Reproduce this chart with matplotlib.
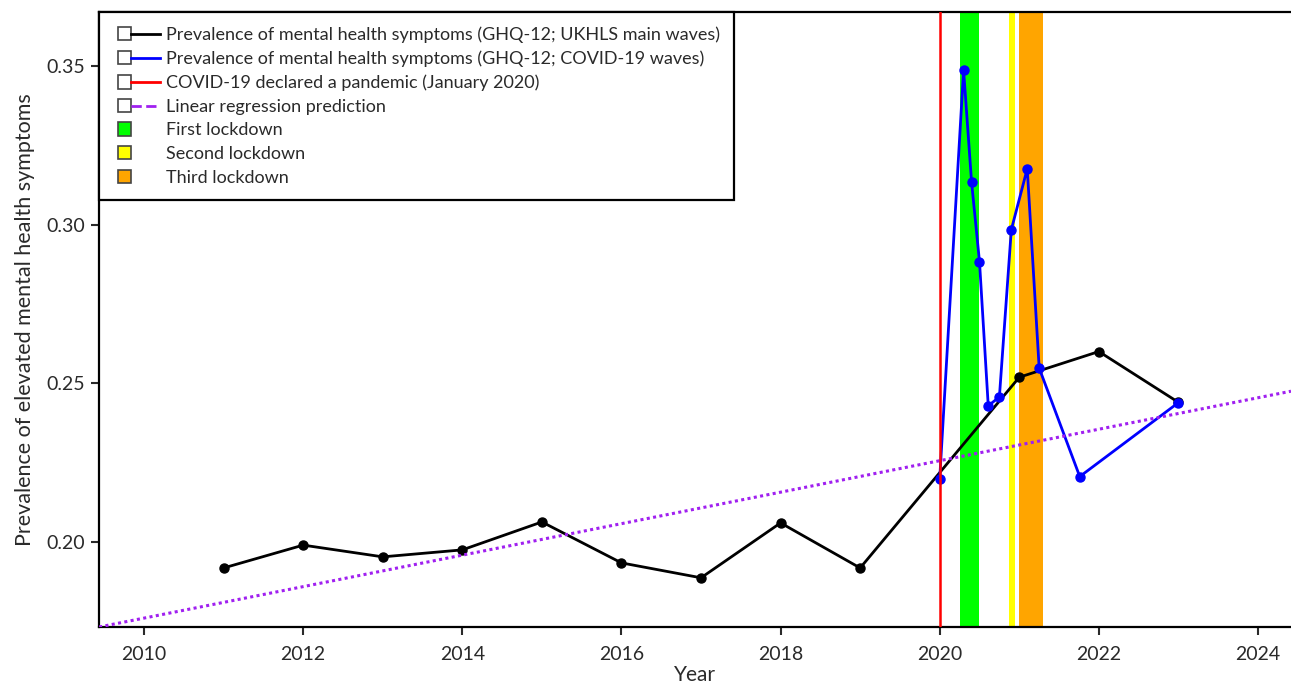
import matplotlib
matplotlib.use("Agg")
import matplotlib.pyplot as plt
from matplotlib.lines import Line2D
from matplotlib.patches import Patch, Rectangle
from matplotlib.legend_handler import HandlerBase

plt.rcParams['font.family'] = ['Lato', 'DejaVu Sans']

# UKHLS main waves
main_years = [2011, 2012, 2013, 2014, 2015, 2016, 2017, 2018, 2019, 2021, 2022, 2023]
main_vals = [0.1918, 0.1990, 0.1953, 0.1975, 0.2063, 0.1934, 0.1887, 0.2060, 0.1918, 0.2519, 0.2600, 0.2440]

# COVID-19 waves
covid_years = [2020.00, 2020.30, 2020.40, 2020.50, 2020.61, 2020.75, 2020.90, 2021.10, 2021.25, 2021.76, 2023.00]
covid_vals = [0.2199, 0.3487, 0.3135, 0.2883, 0.2429, 0.2457, 0.2984, 0.3176, 0.2548, 0.2206, 0.2439]

pandemic_year = 2020.0

# linear regression fitted on pre-pandemic waves
reg_base_year = 2010
reg_base_val = 0.1760
reg_slope = 0.00496

# lockdown periods (start, end)
lockdowns = [(2020.25, 2020.50), (2020.87, 2020.94), (2021.00, 2021.30)]
lockdown_names = ["First lockdown", "Second lockdown", "Third lockdown"]
lockdown_colors = ["#00ff00", "#ffff00", "#ffa500"]

x_ticks = [2010, 2012, 2014, 2016, 2018, 2020, 2022, 2024]
y_ticks = [0.20, 0.25, 0.30, 0.35]

txt_col = "#2a2a2a"


class SquareHandler(HandlerBase):
    # little white box on the left, then the line (as in the original figure)
    def create_artists(self, legend, orig_handle, xdescent, ydescent,
                       width, height, fontsize, trans):
        s = height * 1.05
        yc = height / 2 - ydescent
        x0 = -xdescent + 3
        if isinstance(orig_handle, Patch):
            fc = orig_handle.get_facecolor()
        else:
            fc = "white"
        sq = Rectangle((x0, yc - s / 2), s, s, facecolor=fc, edgecolor="#444444",
                       lw=1.2, transform=trans)
        arts = [sq]
        if isinstance(orig_handle, Line2D):
            ln = Line2D([x0 + s, -xdescent + width], [yc, yc], color=orig_handle.get_color(),
                        lw=orig_handle.get_linewidth(), ls=orig_handle.get_linestyle(),
                        transform=trans)
            arts.append(ln)
        return arts


fig = plt.figure(figsize=(12.91, 6.89), dpi=100)
ax = fig.add_axes([0.0767, 0.09, 0.9233, 0.8926])

for (a, b), c in zip(lockdowns, lockdown_colors):
    ax.axvspan(a, b, color=c, lw=0, zorder=1)

ax.axline((reg_base_year, reg_base_val), slope=reg_slope, color="#a020f0",
          ls=(0, (1, 1.1)), lw=2.2, zorder=4)

ax.plot(main_years, main_vals, color="black", lw=2, marker="o", ms=6.5, zorder=3)
ax.plot(covid_years, covid_vals, color="#0000ff", lw=2, marker="o", ms=6.5, zorder=3)
ax.axvline(pandemic_year, color="red", lw=1.8, zorder=5)

ax.set_xlim(2009.434, 2024.415)
ax.set_ylim(0.1732, 0.367)
ax.set_xticks(x_ticks)
ax.set_yticks(y_ticks)
ax.set_yticklabels([f"{v:.2f}" for v in y_ticks])
ax.tick_params(labelsize=14, length=6, width=1.5, colors=txt_col, pad=4)
ax.tick_params(axis="x", pad=8)
for sp in ["left", "bottom", "top"]:
    ax.spines[sp].set_linewidth(1.6)
ax.spines["right"].set_visible(False)

ax.set_xlabel("Year", fontsize=15, color=txt_col, labelpad=1)
ax.set_ylabel("Prevalence of elevated mental health symptoms", fontsize=15.5,
              color=txt_col, labelpad=8)

handles = [
    Line2D([], [], color="black", lw=2),
    Line2D([], [], color="#0000ff", lw=2),
    Line2D([], [], color="red", lw=2),
    Line2D([], [], color="#a020f0", lw=2, ls=(0, (0.8, 0.8))),
] + [Patch(facecolor=c) for c in lockdown_colors]
labels = [
    "Prevalence of mental health symptoms (GHQ-12; UKHLS main waves)",
    "Prevalence of mental health symptoms (GHQ-12; COVID-19 waves)",
    "COVID-19 declared a pandemic (January 2020)",
    "Linear regression prediction",
] + lockdown_names

leg = ax.legend(handles, labels, loc="upper left", bbox_to_anchor=(0, 1),
                borderaxespad=0, fontsize=13, handlelength=2.6, handletextpad=0.3,
                labelspacing=0.42, borderpad=0.8, fancybox=False, framealpha=1,
                edgecolor="black", handler_map={Line2D: SquareHandler(), Patch: SquareHandler()})
leg.get_frame().set_linewidth(1.6)
leg.set_zorder(10)
for t in leg.get_texts():
    t.set_color(txt_col)

fig.savefig("out.png", dpi=100)
